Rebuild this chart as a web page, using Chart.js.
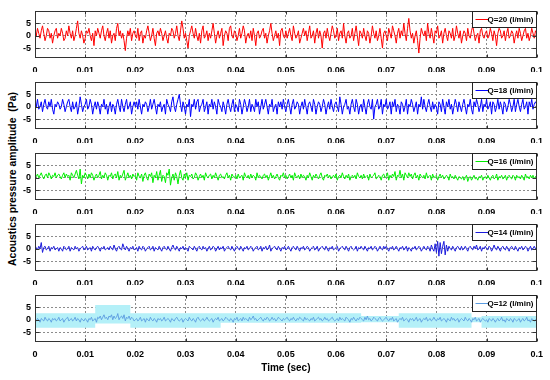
<!DOCTYPE html>
<html><head><meta charset="utf-8">
<script src="https://cdn.jsdelivr.net/npm/chart.js@4.4.0/dist/chart.umd.min.js"></script>
<style>
html,body{margin:0;padding:0;background:#fff;}
#wrap{position:relative;width:550px;height:380px;overflow:hidden;background:#fff;}
.panel{position:absolute;left:0;width:550px;}
#ytitle{position:absolute;left:12px;top:179px;transform:translate(-50%,-50%) rotate(-90deg);white-space:nowrap;font:bold 10.4px 'Liberation Sans',Arial,sans-serif;color:#000;}
</style></head><body>
<div id="wrap">
<div id="ytitle">Acoustics pressure amplitude&nbsp; (Pa)</div>
</div>
<script>
// ---- data ----
const xTicks = [0,0.01,0.02,0.03,0.04,0.05,0.06,0.07,0.08,0.09,0.1];
const xTickLabels = ['0','0.01','0.02','0.03','0.04','0.05','0.06','0.07','0.08','0.09','0.1'];
const yTicks = [-5,0,5];
const seriesNames = ['Q=20 (l/min)','Q=18 (l/min)','Q=16 (l/min)','Q=14 (l/min)','Q=12 (l/min)'];

const q20 = [2,0,3,1,-1,2,4,1,-2,0,3,2,-1,1,-3,0,2,3,-1,1,
0,3,1,-2,-1,2,0,4,1,-1,2,-2,0,3,6,1,-1,2,0,-3,
-1,2,1,3,0,-2,1,-4,2,0,3,1,-1,2,4,0,-2,1,3,-1,
2,-3,0,1,-2,3,5,0,2,-1,1,-2,-6,-1,2,0,3,-2,1,2,
0,-1,3,-2,1,2,-3,0,-1,2,4,1,-2,0,3,-1,-4,1,2,0,
3,1,-2,0,2,-1,-3,1,0,3,2,-1,1,4,0,-2,2,6,3,-1,
1,-2,-5,0,2,4,1,-1,3,0,-2,1,-3,2,4,-1,0,2,-2,1,
-1,2,5,1,-3,0,2,-1,1,3,-4,0,2,1,-2,3,4,0,-1,2,
1,-2,0,3,-1,1,4,2,-3,0,1,-1,2,-2,3,0,-4,1,2,-1,
0,2,3,-1,1,-3,0,2,5,1,-2,0,2,-1,1,-4,2,3,0,-1,
2,-1,1,3,0,-2,4,1,-1,0,2,-3,-1,1,3,0,2,-2,1,4,
-1,0,2,-3,1,3,-1,2,0,-5,1,2,-1,3,0,-2,1,4,2,-1,
0,3,-2,1,2,-1,5,0,-3,1,2,-1,0,3,-2,1,4,0,-4,2,
1,-1,3,0,-2,2,1,-3,0,4,1,-1,2,-2,0,3,-1,-5,1,2,
0,-2,3,1,-1,4,2,0,-3,1,3,-1,2,0,5,1,-2,3,7,2,
-1,1,-3,0,2,-2,-7,-1,3,1,0,2,-2,5,1,-1,3,0,-3,2,
1,4,-1,0,2,-3,1,3,0,-2,2,1,-1,3,-2,0,4,1,-1,2,
-3,0,2,1,-2,3,0,-1,2,4,1,-2,0,1,-3,2,3,0,-1,1,
2,-1,0,3,1,-2,2,0,-4,1,3,2,-1,0,2,-2,1,3,-1,0,
2,1,-3,0,2,-1,3,1,-2,0,2,3,-1,1,-2,0,3,1,-1,2,
1];
const q18 = [1,0,3,-1,0,2,-2,1,3,0,-1,2,0,3,-1,-3,1,0,2,1,
-1,0,3,1,-2,0,2,3,0,-2,2,-1,0,2,-3,0,4,1,-2,0,
1,3,-1,0,3,1,-3,0,2,-1,2,0,-3,1,0,3,-1,1,-3,0,
2,-2,1,0,-3,1,3,0,-2,3,0,-2,1,3,-1,0,2,-3,0,2,
0,2,-1,3,0,-3,1,0,2,1,-2,0,3,-1,1,3,0,-3,1,0,
2,-2,0,1,-3,3,1,0,-2,2,4,0,-2,1,3,5,1,-2,2,0,
-3,1,0,3,-4,1,0,3,-1,2,3,-2,0,1,3,-2,0,2,-3,1,
0,3,-1,2,0,-3,3,1,0,-2,2,0,-3,1,3,0,-2,1,3,-2,
1,0,-2,3,1,-3,0,3,1,-2,0,3,-2,1,0,-2,3,0,2,-3,
0,3,-1,1,3,0,-3,1,0,3,-2,0,1,-3,2,0,2,-1,3,0,
-2,1,3,0,-3,1,3,-1,0,2,1,-3,0,2,-1,3,0,-3,1,2,
0,-2,3,1,-3,0,2,1,-2,0,3,1,-3,0,2,-1,3,0,-2,1,
2,0,-2,4,1,-3,0,1,3,-1,0,-3,1,3,0,-2,3,1,-3,0,
1,-2,3,0,-3,1,3,0,-1,3,-5,0,1,3,-1,0,3,-3,1,0,
3,-1,0,2,-3,2,0,3,-2,1,0,-3,2,1,-2,0,3,-3,1,0,
3,1,-2,0,2,-3,1,0,4,-1,3,0,-2,1,3,0,-2,2,-1,1,
0,-3,2,1,-2,3,0,-3,2,0,3,-1,1,-3,0,3,1,-2,2,0,
-2,1,3,0,-3,1,0,3,-1,-3,2,0,3,1,-2,0,3,-2,1,0,
3,-1,0,2,-3,2,1,-2,0,3,-1,2,0,-3,2,1,-2,0,3,1,
-2,0,3,-2,1,3,0,-2,1,3,-1,0,2,-3,2,0,3,-1,1,2,
1];
const q16 = [1,0.5,1.5,0,1,2,0.5,-0.5,1,1.5,0,2,1,-0.5,1,0.5,2,0,1,1.5,
0.5,-0.5,1,2,0,1.5,0.5,1,-1,2,1,0,1.5,3,1,-0.5,3.5,-2.5,1,0,
2,1,-0.5,1.5,0,2,1,-1,0.5,1.5,0,1,2.5,-0.5,1,0,2,1,-1,1,
0.5,2,-0.5,1,1.5,0,2.5,-1,1,0,1.5,3,-1,0.5,2,0,1,-0.5,1.5,0.5,
1,-1,2,0.5,0,1.5,-1.5,1,2,0,-1,1.5,0.5,2,-2,1,0,2.5,-1,1,
3,-1.5,1,0.5,-2,2,1,3.5,-3,0,1.5,-1,2,0.5,-2.5,1,3,0,-1,1.5,
0,2,-1,1,0.5,1.5,-0.5,0,2,1,-1,0.5,1.5,0,1,-1,2,0.5,0,1,
1.5,-0.5,1,0,2,0.5,-1,1,1.5,0,0.5,-0.5,1,2,0,1,-1,1.5,0.5,0,
1,-0.5,1.5,0,0.5,1,-1,2,0.5,0,1,-0.5,1.5,0,1,0.5,-1,2,0,1,
0.5,-0.5,1,1.5,0,1,-1,0.5,2,0,1,-0.5,0.5,1.5,0,-1,1,0.5,2,0,
1,-0.5,0.5,1.5,0,1,-1,2,0.5,0,1,-0.5,1.5,0,1,0.5,-1,1,0,2,
0.5,-1,1,0,1.5,0.5,-0.5,1,2,0,-1,1,0.5,1.5,0,1,-0.5,0.5,1,0,
1.5,-1,0.5,1,0,2,0.5,-0.5,1,0,1.5,-1,0.5,1,0,1,-0.5,2,0.5,0,
1,-0.5,1.5,0,0.5,1,-1,1.5,0,0.5,1,2,-0.5,0,1,0.5,-1,1,1.5,0,
0.5,2,-1,1,0,1.5,0.5,2.5,-1,1,0.5,3,0,1.5,-1,2,1,0,2,0.5,
1.5,-0.5,1,2,0,1,-1,1.5,0.5,0,1,-0.5,2,0,0.5,1,-1,1.5,0,0.5,
1,-1,0.5,1.5,0,1,-0.5,0,1,0.5,-1,1.5,0,0.5,-0.5,1,0,-1,0.5,0,
-0.5,0.5,-1,0,1,-1.5,0,0.5,-1,0,1,-0.5,0,-1,0.5,0,1,-1,0,0.5,
-0.5,1,0,-1,0.5,1,-0.5,0,1.5,-1,0.5,0,1,-0.5,0,1,-1,0.5,1,0,
-0.5,1,0.5,-1,1,0,0.5,-0.5,1,0,-1,1.5,0,0.5,-0.5,1,0,1,-0.5,0.5,
0.5];
const q14 = [0,0.5,-0.5,1,0,2.5,-1.5,0.5,1,-0.5,0,1,-1,0.5,0,1,-0.5,0,0.5,-1,
0.5,0,-1,1,0.5,-0.5,0,1,-1,0.5,0,-0.5,1,0,0.5,-1,0,0.5,1,-0.5,
0,1,-0.5,0,0.5,-1,1,0,-0.5,0.5,1,0,-1,0.5,0,1,-0.5,0,0.5,-0.5,
1,0,-0.5,1.5,0,-1,0.5,1,0,-0.5,2,0.5,-0.5,1,0,-1,0.5,0,1,-0.5,
0,0.5,-1,1,0,-0.5,1,0.5,-1,0,0.5,1,-0.5,0,1,-1,0.5,0,-0.5,1,
0,-1,0.5,1,0,-0.5,1,0,-1,0.5,1.5,0,-0.5,1,0,-1,0.5,0,1,-0.5,
0.5,0,-1,1,0.5,0,-0.5,1,0,-1,0.5,1,0,-0.5,1,0,0.5,-1,0,1,
-0.5,0,1,0.5,-1,0,1,-0.5,0.5,0,1,-1,0,0.5,1,0,-0.5,1,0,-1,
0.5,1,0,-0.5,1,0,-1,0.5,0,1,-0.5,0,1,0.5,-1,0,0.5,1,-0.5,0,
1,-1,0.5,0,1,-0.5,0,1.5,-1,0,0.5,1,0,-0.5,1,0,-1,0.5,0,1,
-0.5,0,1,0,-1,0.5,1,0,-0.5,1,0,-1,0.5,0,1,-0.5,0,1,0.5,-1,
0,0.5,1,-0.5,0,1,-1,0,0.5,1,0,-0.5,1,0,-1,0.5,0,1,-0.5,0,
0.5,1,-1,0,0.5,1,0,-0.5,1,0,-1,0.5,1,0,-0.5,0,1,-1,0.5,0,
1,0,-0.5,1,0,-1,0.5,0,1,-0.5,0,1,0.5,-1,0,1,0,-0.5,1,0,
1,0,-1,0.5,0,1,-0.5,0,1,0,-1,0.5,0,1,-0.5,0,1,-1,0.5,0,
-1,0.5,0,1,-0.5,0,1,0.5,-1,0,1,0,-0.5,1,0.5,-1,1.5,0,-1,2,
-1.5,3,-3,2.5,-2,1,3,-2.5,1.5,-1,1,0,-0.5,1,0,-1,0.5,1,0,-0.5,
1,-0.5,0,1,0,-1,0.5,1,0,-0.5,1,0,1.5,-0.5,0,1,-1,0.5,0,1,
0,-0.5,1,0.5,-1,0,1.5,0,-0.5,1,0,-1,0.5,1,0,-0.5,1,0,-1,0.5,
1,0,-0.5,1,0,-1,0.5,0,1,-0.5,0,1,0.5,-1,0,1,-0.5,0,1,0,
0.5];
const q12 = [0,-0.5,0.5,0,-1,0.5,0,-0.5,1,0,-0.5,0.5,0,-1,0.5,0,0.5,-0.5,0,1,
-0.5,0,0.5,-1,0,0.5,1,-0.5,0,0.5,-0.5,0,1,-0.5,0.5,0,-1,0.5,0,-0.5,
0.5,0,-1,0.5,0,1,-0.5,0,0.5,-1,1,0.5,1.5,0,1,2,0.5,1,0,1.5,
1,2,0,1.5,0.5,1,2.5,0,1,1.5,0.5,2,-0.5,1,0.5,1.5,0,1,0.5,-0.5,
0,0.5,-0.5,0,1,-0.5,0,0.5,-1,0.5,0,-0.5,1,0,-0.5,0.5,0,-1,0.5,0,
0.5,-0.5,0,1,-0.5,0,0.5,0,-1,0.5,0,-0.5,0.5,1,0,-0.5,0,0.5,-1,0,
0.5,0,-0.5,1,0,-0.5,0.5,0,-1,0.5,1,0,-0.5,0,0.5,-0.5,0,1,0,-0.5,
0,0.5,-1,0,0.5,0,1,-0.5,0,0.5,-0.5,0,1,0.5,0,-0.5,0.5,0,-1,0.5,
0,1,-0.5,0,0.5,-0.5,1,0,0.5,0,-0.5,1,0,0.5,1.5,0,0.5,-0.5,0,0.5,
1,0,-0.5,0.5,0,1,0.5,-0.5,0,1,0,0.5,-0.5,0,1,0.5,0,-0.5,0.5,0,
0.5,1,0,-0.5,0.5,0,1,0,-0.5,0.5,0,1,0.5,0,-0.5,1,0,0.5,0,-0.5,
0.5,0,1,-0.5,0,0.5,1,0,0.5,-0.5,0,1,0,0.5,-0.5,0,0.5,1,0,-0.5,
0,0.5,-0.5,1,0,0.5,0,-0.5,1,0.5,0,-1,0.5,0,1,0,-0.5,0.5,0,1,
0.5,0,-0.5,1,0,1.5,0,0.5,-0.5,0,1,0.5,0,-0.5,0.5,1,0,-0.5,0,0.5,
1,0,-0.5,0.5,0,1,-0.5,0,0.5,-1,0,0.5,0,1,-0.5,0,0.5,0,-1,0.5,
0,0.5,-0.5,0,1,-0.5,0,0.5,-1,0,0.5,0,1,-0.5,0,0.5,-0.5,0,1,0,
-0.5,0.5,0,1,-0.5,0,0.5,0,-1,0.5,0,-0.5,1,0,0.5,-0.5,0,0.5,-1,0,
0.5,0,-0.5,1,0,-0.5,0.5,0,-1,0.5,0,1,-0.5,0,0.5,-1,0,0.5,0,-0.5,
0,-1,0.5,0,-0.5,0.5,0,-1,0,0.5,-0.5,0,1,-0.5,0,-1,0.5,0,-0.5,0.5,
0,-1,0.5,0,-0.5,0,0.5,-1,0,0.5,-0.5,0,1,-0.5,0,-1,0.5,0,-0.5,0,
0];
// light cyan envelope of the dense Q=12 trace (each value holds until the next time)
const bandTimes = [0,0.012,0.019,0.037,0.065,0.0725,0.087,0.089,0.1];
const bandUpper = [2.6,6,2.6,2.6,1.5,2.6,1,1.5,1.5];
const bandLower = [-3.2,-1.5,-3.2,-1.2,-1,-3.2,-1,-3.2,-3.2];

const seriesValues = [q20,q18,q16,q14,q12];
const seriesColors = ['#ff0000','#0000ff','#00ee00','#1c1cdc','#5a9be0'];
const bandColor = '#b4f0f8';

// ---- layout ----
const panelTops = [11,82,153,224,295];
const PAD_TOP = 10, PLOT_H = 47;
const NARROW = "'Liberation Sans Narrow', 'Arial Narrow', 'Liberation Sans', Arial, sans-serif";
Chart.defaults.font.family = NARROW;
Chart.defaults.color = '#000';

const decoPlugin = {
  id:'deco',
  afterDatasetsDraw(chart){
    const {ctx, chartArea:a, scales} = chart;
    const main = chart.data.datasets[0];
    ctx.save();
    ctx.setLineDash([]);
    ctx.strokeStyle = '#333'; ctx.lineWidth = 1;
    const L = Math.round(a.left)+0.5, T = Math.round(a.top)+0.5, R = Math.round(a.right)-0.5, B = Math.round(a.bottom)-0.5;
    ctx.strokeRect(L, T, R-L, B-T);
    ctx.beginPath();
    scales.x.ticks.forEach(t=>{
      const px = Math.round(scales.x.getPixelForValue(t.value))+0.5;
      ctx.moveTo(px,T); ctx.lineTo(px,T+3);
      ctx.moveTo(px,B); ctx.lineTo(px,B-3);
    });
    scales.y.ticks.forEach(t=>{
      const py = Math.round(scales.y.getPixelForValue(t.value))+0.5;
      ctx.moveTo(L,py); ctx.lineTo(L+4,py);
      ctx.moveTo(R,py); ctx.lineTo(R-4,py);
    });
    ctx.stroke();
    // legend box
    const lw = 64, lh = 16;
    const bx = R - lw, by = T;
    ctx.fillStyle = '#fff';
    ctx.fillRect(bx, by, lw, lh);
    ctx.strokeStyle = '#222';
    ctx.strokeRect(bx, by, lw, lh);
    ctx.beginPath();
    ctx.strokeStyle = main.borderColor; ctx.lineWidth = 1;
    ctx.moveTo(bx+3, by+8); ctx.lineTo(bx+16, by+8);
    ctx.stroke();
    ctx.fillStyle = '#000';
    ctx.font = "bold 8px " + NARROW;
    ctx.textAlign = 'right'; ctx.textBaseline = 'middle';
    ctx.fillText(main.label, R-3, by+8.5);
    ctx.restore();
  }
};

function makePanel(k){
  const last = k === 4;
  const div = document.createElement('div');
  div.className = 'panel';
  div.style.top = (panelTops[k]-PAD_TOP)+'px';
  const h = last ? 92 : 71;
  div.style.height = h+'px';
  const cv = document.createElement('canvas');
  cv.width = 550; cv.height = h;
  cv.style.width = '550px'; cv.style.height = h+'px';
  div.appendChild(cv);
  document.getElementById('wrap').appendChild(div);
  const vals = seriesValues[k];
  const n = vals.length;
  const datasets = [{
    label: seriesNames[k],
    data: vals.map((v,i)=>({x: i*0.1/(n-1), y: v})),
    borderColor: seriesColors[k], borderWidth: last ? 0.9 : 1,
    pointRadius: 0, tension: 0, fill: false
  }];
  if (last) {
    datasets.push(
      {label:'bandU', data: bandTimes.map((t,i)=>({x:t,y:bandUpper[i]})), borderWidth:0, pointRadius:0, stepped:'before', fill:false, borderColor:bandColor},
      {label:'bandL', data: bandTimes.map((t,i)=>({x:t,y:bandLower[i]})), borderWidth:0, pointRadius:0, stepped:'before', fill:'-1', backgroundColor:bandColor, borderColor:bandColor}
    );
  }
  const xh = h - PAD_TOP - PLOT_H;
  new Chart(cv, {
    type:'line',
    data:{datasets},
    options:{
      responsive:false, animation:false, devicePixelRatio:1,
      layout:{padding:{left:0,right:12,top:PAD_TOP,bottom:0}},
      plugins:{legend:{display:false}, tooltip:{enabled:false}},
      scales:{
        x:{type:'linear', min:0, max:0.1,
          afterBuildTicks: s=>{ s.ticks = xTicks.map(v=>({value:v})); },
          afterFit: s=>{ s.height = xh; },
          ticks:{callback:(v,i)=>xTickLabels[i], font:{size:9, weight:'bold'}, color:'#000', padding:7, maxRotation:0, autoSkip:false},
          grid:{color:'#8c8c8c', lineWidth:1, drawTicks:false},
          border:{display:false, dash:[2,2]},
          title: last ? {display:true, text:'Time (sec)', font:{size:10, weight:'bold'}, color:'#000', padding:{top:2,bottom:3}} : {display:false}
        },
        y:{min:-9, max:10,
          afterBuildTicks: s=>{ s.ticks = yTicks.map(v=>({value:v})); },
          afterFit: s=>{ s.width = 35; },
          ticks:{callback:(v)=>String(v), font:{size:9, weight:'bold'}, color:'#000', padding:4},
          grid:{color:'#8c8c8c', lineWidth:1, drawTicks:false},
          border:{display:false, dash:[2,2]}
        }
      }
    },
    plugins:[decoPlugin]
  });
}
for (let k=0;k<5;k++) makePanel(k);
</script>
</body></html>
